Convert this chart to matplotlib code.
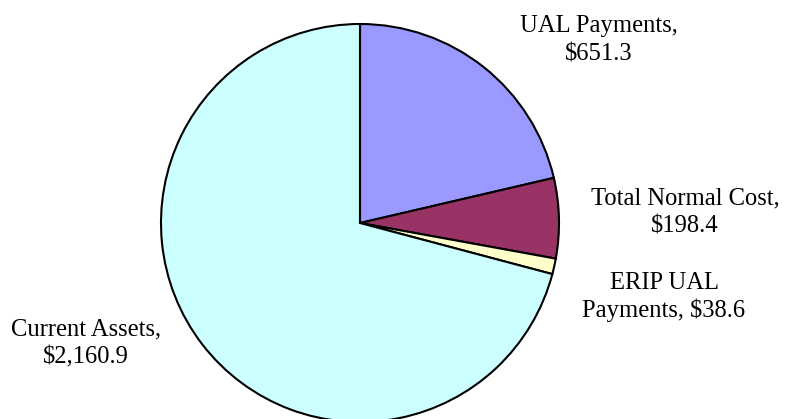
import matplotlib
matplotlib.use("Agg")
import matplotlib.pyplot as plt

matplotlib.rcParams["font.family"] = ["Liberation Serif", "DejaVu Serif"]

# data (millions)
labels = ["UAL Payments,\n$651.3", "Total Normal Cost,\n$198.4",
          "ERIP UAL\nPayments, $38.6", "Current Assets,\n$2,160.9"]
values = [651.3, 198.4, 38.6, 2160.9]
colors = ["#9999FF", "#993366", "#FFFFCC", "#CCFFFF"]

# label centre x and first-line baseline y, in pixels from top-left
label_pos = [(599, 32), (685, 204), (664, 289), (86, 335.5)]
line_pitch = 28

W, H = 785, 419
fig = plt.figure(figsize=(W / 100, H / 100), dpi=100)
ax = fig.add_axes([0, 0, 1, 1])

ax.pie(values, colors=colors, startangle=90, counterclock=False,
       center=(360, H - 223), radius=199, frame=True,
       wedgeprops={"edgecolor": "black", "linewidth": 1.5})
ax.set_xlim(0, W)
ax.set_ylim(0, H)
ax.set_aspect("equal")
ax.axis("off")

for lab, (x, y) in zip(labels, label_pos):
    for i, line in enumerate(lab.split("\n")):
        ax.text(x, H - (y + i * line_pitch), line, ha="center",
                va="baseline", fontsize=17.7)

plt.savefig("out.png", dpi=100)
